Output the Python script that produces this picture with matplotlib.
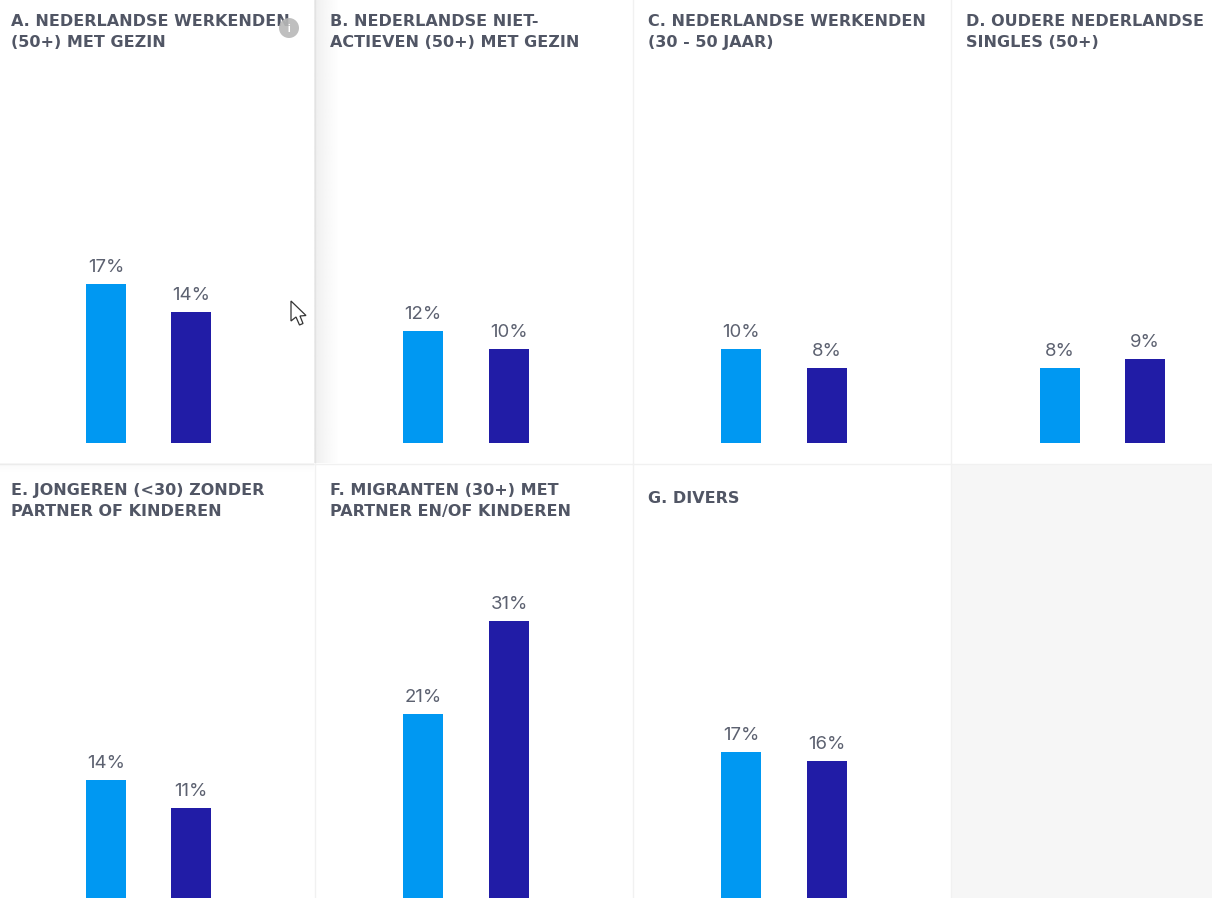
import numpy as np
import matplotlib
matplotlib.use("Agg")
import matplotlib.pyplot as plt
from matplotlib.patches import Circle, Polygon, Rectangle

W, H = 1212, 898
titles = [
    "A. NEDERLANDSE WERKENDEN\n(50+) MET GEZIN",
    "B. NEDERLANDSE NIET-\nACTIEVEN (50+) MET GEZIN",
    "C. NEDERLANDSE WERKENDEN\n(30 - 50 JAAR)",
    "D. OUDERE NEDERLANDSE\nSINGLES (50+)",
    "E. JONGEREN (<30) ZONDER\nPARTNER OF KINDEREN",
    "F. MIGRANTEN (30+) MET\nPARTNER EN/OF KINDEREN",
    "G. DIVERS",
]
series_a = [17, 12, 10, 8, 14, 21, 17]
series_b = [14, 10, 8, 9, 11, 31, 16]
COL_A, COL_B = "#0098f2", "#211ca6"
TXT, LBL = "#515665", "#5c6170"

plt.rcParams["font.family"] = ["Inter", "DejaVu Sans"]
fig = plt.figure(figsize=(W / 100, H / 100), dpi=100, facecolor="white")

# panel geometry in pixels
col_l = [0, 315, 633, 951]
col_r = [314, 632, 950, 1212]
bar_c = [(106, 191), (423, 509), (741, 827), (1060, 1145)]
row_t = [0, 464]
row_b = [463, 898]
base = [443, 911]
ppu = 9.37
bar_w = 40

bg = fig.add_axes([0, 0, 1, 1], zorder=0)
bg.set_xlim(0, W); bg.set_ylim(H, 0); bg.axis("off")
bg.add_patch(Rectangle((951, 464), 261, 434, fc="#f6f6f6", ec="none"))
for x in (314.5, 632.5, 950.5):
    bg.plot([x, x], [0, H], color="#f1f1f1", lw=1.0)
bg.plot([0, W], [463.5, 463.5], color="#f1f1f1", lw=1.0)
# hover shadow of panel A
grad = np.zeros((1, 26, 4))
grad[..., :3] = 0.6
grad[..., 3] = np.linspace(0.22, 0, 26) ** 1.2
bg.imshow(grad, extent=(314, 340, 463, 0), aspect="auto", interpolation="bilinear", zorder=2)
grad2 = np.zeros((10, 1, 4))
grad2[..., :3] = 0.6
grad2[..., 3] = (np.linspace(0.10, 0, 10) ** 1.2)[:, None]
bg.imshow(grad2, extent=(0, 314, 473, 463), aspect="auto", interpolation="bilinear", zorder=2)
bg.set_xlim(0, W); bg.set_ylim(H, 0)

for i, t in enumerate(titles):
    r, c = divmod(i, 4)
    l, rr, top, bot = col_l[c], col_r[c], row_t[r], row_b[r]
    ax = fig.add_axes([l / W, 1 - bot / H, (rr - l) / W, (bot - top) / H], zorder=3)
    ax.patch.set_alpha(0)
    c0, c1 = bar_c[c]
    span = c1 - c0
    ax.set_xlim((l - c0) / span, (rr - c0) / span)
    ax.set_ylim((base[r] - bot) / ppu, (base[r] - top) / ppu)
    ax.axis("off")
    w = bar_w / span
    ax.bar([0, 1], [series_a[i], series_b[i]], width=w, color=[COL_A, COL_B], linewidth=0)
    for x, v in zip((0, 1), (series_a[i], series_b[i])):
        ax.annotate(f"{v}%", (x, v), xytext=(0, 8), textcoords="offset pixels",
                    ha="center", va="bottom", fontsize=13.4, color=LBL, fontweight="normal")
    y_px = (491 if i != 6 else 499) if r else 22
    ax.text((11 if c == 0 else 15) / (rr - l), 1 - (y_px - top - 8) / (bot - top), t,
            transform=ax.transAxes, ha="left", va="top", fontsize=11.55,
            family="DejaVu Sans", fontweight="bold", color=TXT, linespacing=1.48)

ov = fig.add_axes([0, 0, 1, 1], zorder=5)
ov.set_xlim(0, W); ov.set_ylim(H, 0); ov.axis("off"); ov.patch.set_alpha(0)
ov.add_patch(Circle((289, 28), 10, fc="#b8b8b8", ec="none", alpha=0.9))
ov.text(289, 28.5, "i", color="white", fontsize=7, ha="center", va="center", fontweight="bold")
ov.add_patch(Polygon([(291, 301), (291, 321), (296, 317), (299.5, 325), (303, 323.5),
                      (300, 316), (306, 315.5)], closed=True, fc="white", ec="#333333", lw=0.9))
fig.savefig("out.png", dpi=100)
